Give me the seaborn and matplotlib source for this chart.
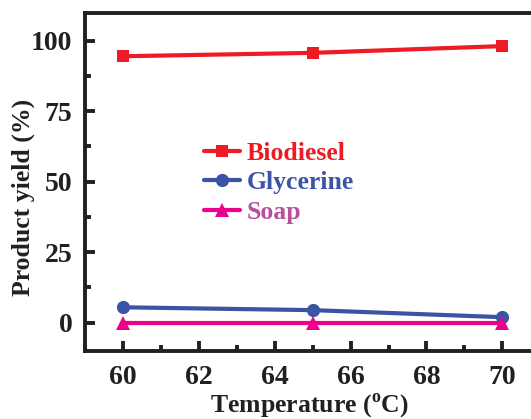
import matplotlib
matplotlib.use("Agg")
import matplotlib.pyplot as plt
import seaborn as sns
import pandas as pd
from matplotlib.ticker import MultipleLocator

# Reaction temperature (°C) and product yields (%)
temperature = [60, 65, 70]
biodiesel = [94.5, 95.7, 98.1]
glycerine = [5.4, 4.4, 1.9]
soap = [0.0, 0.0, 0.0]

series_names = ["Biodiesel", "Glycerine", "Soap"]
line_colors = {"Biodiesel": "#ED1C24", "Glycerine": "#3A53A4", "Soap": "#EC008C"}
text_colors = {"Biodiesel": "#ED1C24", "Glycerine": "#3A53A4", "Soap": "#B84F9E"}
markers = {"Biodiesel": "s", "Glycerine": "o", "Soap": "^"}
marker_sizes = {"Biodiesel": 8.5, "Glycerine": 9.5, "Soap": 10}

df = pd.DataFrame({
    "Temperature": temperature * 3,
    "Yield": biodiesel + glycerine + soap,
    "Product": [n for n in series_names for _ in temperature],
})

sns.set_theme(style="ticks")
plt.rcParams["font.family"] = ["Liberation Serif", "DejaVu Serif"]
plt.rcParams["font.weight"] = "bold"
plt.rcParams["mathtext.fontset"] = "custom"
plt.rcParams["mathtext.rm"] = "Liberation Serif:bold"
plt.rcParams["mathtext.bf"] = "Liberation Serif:bold"

ink = "#231F20"
fig = plt.figure(figsize=(5.31, 4.19), dpi=100)
# The axes run past the right edge of the figure, so the right spine is clipped
ax = fig.add_axes([0.160, 0.163, 0.8575, 0.807])

sns.lineplot(
    data=df, x="Temperature", y="Yield", hue="Product", style="Product",
    palette=line_colors, markers=markers, dashes=False, hue_order=series_names,
    style_order=series_names, linewidth=3.0, markersize=8.5,
    markeredgewidth=0, ax=ax, legend=False,
)
lines = ax.get_lines()[:3]
for ln, name in zip(lines, series_names):
    ln.set_markersize(marker_sizes[name])

ax.set_xlim(59, 71)
ax.set_ylim(-10, 110)
ax.xaxis.set_major_locator(MultipleLocator(2))
ax.xaxis.set_minor_locator(MultipleLocator(1))
ax.yaxis.set_major_locator(MultipleLocator(25))
ax.yaxis.set_minor_locator(MultipleLocator(12.5))

for side in ["left", "bottom", "top", "right"]:
    ax.spines[side].set_linewidth(2.8)
    ax.spines[side].set_color(ink)

ax.tick_params(which="major", direction="in", length=7.5, width=2.8,
               labelsize=20, color=ink, labelcolor=ink)
ax.tick_params(which="minor", direction="in", length=4, width=2.8, color=ink)
ax.tick_params(axis="x", which="both", top=False, pad=10.5)
ax.tick_params(axis="y", which="both", right=False, pad=9)
for lab in ax.get_xticklabels() + ax.get_yticklabels():
    lab.set_fontweight("bold")

ax.set_xlabel(r"Temperature ($^{\mathbf{o}}$C)", fontsize=18.5, fontweight="bold",
              color=ink)
ax.set_ylabel("Product yield (%)", fontsize=18.5, fontweight="bold", color=ink)
ax.xaxis.set_label_coords(0.492, -0.119)
ax.yaxis.set_label_coords(-0.110, 0.454)

leg = ax.legend(lines, series_names, loc="center left",
                bbox_to_anchor=(0.262, 0.497), frameon=False,
                handlelength=1.4, handletextpad=0.25, labelspacing=0.25,
                borderpad=0, borderaxespad=0, prop={"weight": "bold", "size": 18.5})
for txt, name in zip(leg.get_texts(), series_names):
    txt.set_color(text_colors[name])

fig.savefig("out.png", dpi=100)
